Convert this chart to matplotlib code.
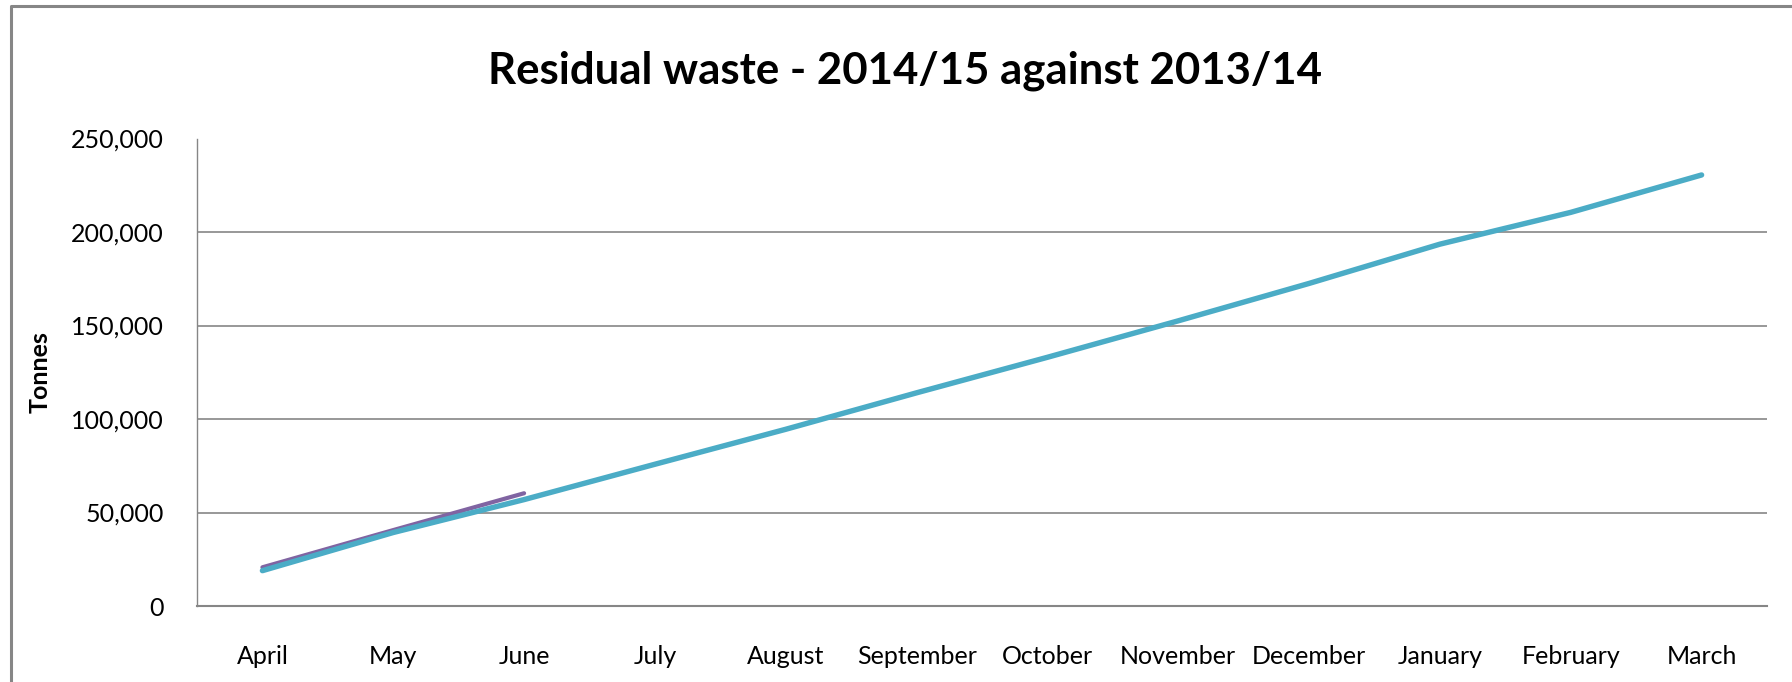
import matplotlib
matplotlib.use("Agg")
import matplotlib.pyplot as plt
from matplotlib.lines import Line2D
from matplotlib.ticker import FuncFormatter

plt.rcParams['font.family'] = ['Lato', 'DejaVu Sans']

# --- data ---
months = ["April", "May", "June", "July", "August", "September", "October",
          "November", "December", "January", "February", "March"]
tonnes_2013_14 = [18900, 39300, 56900, 75800, 94500, 114000, 133000,
                  152500, 172500, 193500, 210500, 230500]
tonnes_2014_15 = [20700, 40600, 60300]

grey = "#868686"

fig = plt.figure(figsize=(17.92, 6.82), dpi=100)
ax = fig.add_axes([197 / 1792, 1 - 606 / 682, 1570 / 1792, 467.5 / 682])

x = list(range(len(months)))
ax.plot(x, tonnes_2013_14, color="#4BACC6", lw=3.9, solid_capstyle="round", zorder=3)
ax.plot(x[:len(tonnes_2014_15)], tonnes_2014_15, color="#8064A2", lw=3.0,
        solid_capstyle="round", zorder=2)

ax.set_xlim(-0.5, len(months) - 0.5)
ax.set_ylim(0, 250000)
ax.set_yticks(range(0, 250001, 50000))
ax.yaxis.set_major_formatter(FuncFormatter(lambda v, p: f"{int(v):,}"))
ax.set_xticks(x)
ax.set_xticklabels(months)

# gridlines except the top one
for v in range(50000, 250000, 50000):
    ax.axhline(v, color=grey, lw=1.2, zorder=1)

for s in ["top", "right"]:
    ax.spines[s].set_visible(False)
ax.spines["left"].set_color(grey)
ax.spines["left"].set_linewidth(1.0)
ax.spines["bottom"].set_color(grey)
ax.spines["bottom"].set_linewidth(1.5)
ax.tick_params(axis="both", length=0, labelsize=18, colors="black")
ax.tick_params(axis="y", pad=24)
ax.tick_params(axis="x", pad=28)

ax.set_ylabel("Tonnes", fontsize=18, fontweight="bold", labelpad=14)

fig.text(0.505, 1 - 71 / 682, "Residual waste - 2014/15 against 2013/14",
         ha="center", va="center", fontsize=31.5, fontweight="bold")

# outer chart border (cut off on the right and bottom)
fx = 11 / 1792
fy = 1 - 6 / 682
fig.add_artist(Line2D([fx, fx, 1.0], [0.0, fy, fy], transform=fig.transFigure,
                      color=grey, lw=2.2))

fig.savefig("out.png", dpi=100)
